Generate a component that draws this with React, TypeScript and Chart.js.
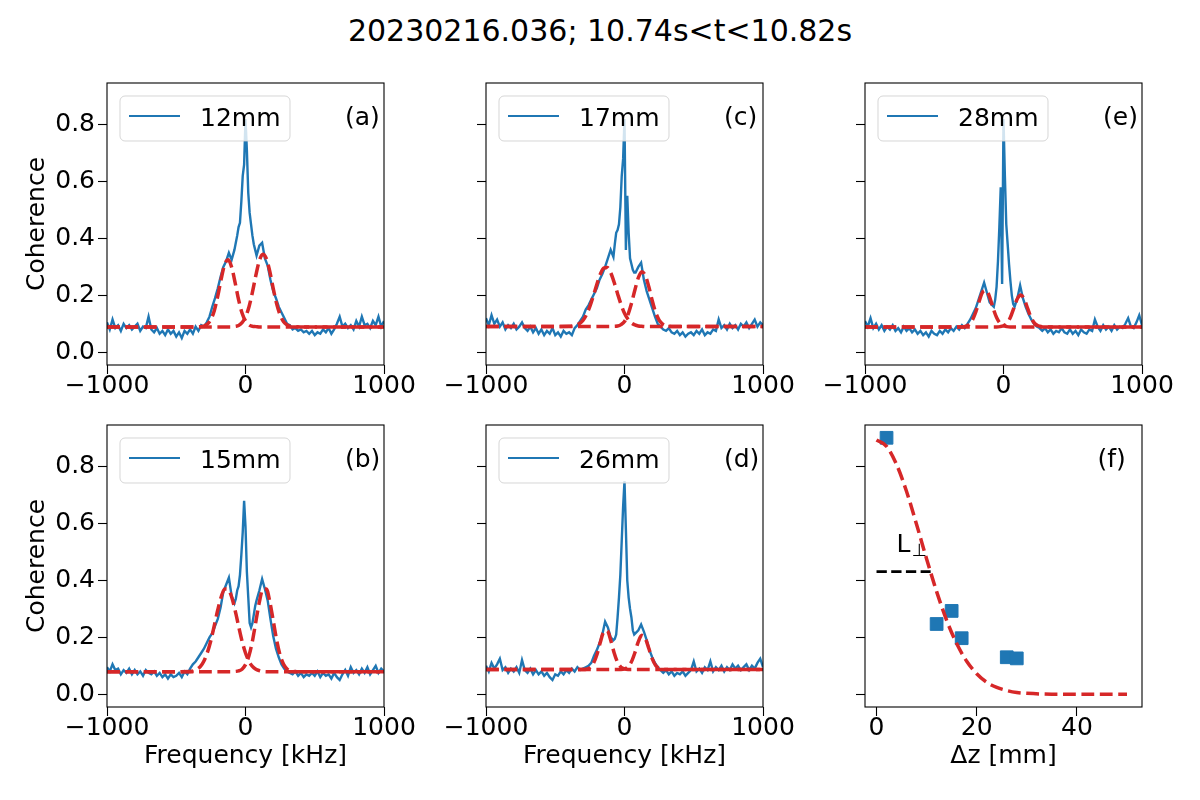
import { useEffect, useRef } from "react"
import { Chart, registerables } from "chart.js"

Chart.register(...registerables)
Chart.defaults.font.family = "'DejaVu Sans', sans-serif"
Chart.defaults.color = "#000"

const BLUE = "#1f77b4"
const RED = "#d62728"

// frequency grid of the measured spectra [kHz]
const freqs = [
  -1000, -980, -960, -940, -920, -900, -880, -860, -840, -820,
  -800, -780, -760, -740, -720, -700, -680, -660, -640, -620,
  -600, -580, -560, -540, -520, -500, -480, -460, -440, -420,
  -400, -380, -360, -340, -320, -300, -280, -260, -240, -220,
  -200, -180, -160, -140, -120, -100, -80,
  -70, -60, -50, -40, -30, -20, -10, 0, 10, 20, 30, 40, 50, 60, 70,
  80, 100, 120, 140, 160, 180, 200, 220, 240, 260,
  280, 300, 320, 340, 360, 380, 400, 420, 440, 460,
  480, 500, 520, 540, 560, 580, 600, 620, 640, 660,
  680, 700, 720, 740, 760, 780, 800, 820, 840, 860,
  880, 900, 920, 940, 960, 980, 1000,
]

const coh12 = [
  0.105, 0.08, 0.115, 0.085, 0.095, 0.075, 0.1, 0.085, 0.095, 0.08,
  0.09, 0.1, 0.075, 0.09, 0.085, 0.125, 0.08, 0.07, 0.085, 0.065,
  0.075, 0.06, 0.08, 0.065, 0.075, 0.055, 0.07, 0.05, 0.075, 0.065,
  0.08, 0.065, 0.09, 0.075, 0.095, 0.09, 0.105, 0.125, 0.16, 0.19,
  0.225, 0.265, 0.3, 0.32, 0.35, 0.325, 0.36,
  0.385, 0.41, 0.44, 0.455, 0.53, 0.62, 0.66, 0.82, 0.71, 0.56, 0.49, 0.45, 0.41, 0.38, 0.36,
  0.34, 0.375, 0.385, 0.33, 0.305, 0.255, 0.215, 0.19, 0.16, 0.14,
  0.12, 0.1, 0.095, 0.08, 0.085, 0.075, 0.08, 0.07, 0.075, 0.065,
  0.075, 0.06, 0.07, 0.065, 0.08, 0.07, 0.085, 0.065, 0.08, 0.1,
  0.125, 0.09, 0.1, 0.085, 0.095, 0.08, 0.11, 0.09, 0.125, 0.095,
  0.1, 0.085, 0.11, 0.095, 0.125, 0.09, 0.11,
]

const coh17 = [
  0.12, 0.095, 0.13, 0.1, 0.115, 0.09, 0.105, 0.08, 0.095, 0.085,
  0.1, 0.08, 0.09, 0.105, 0.085, 0.075, 0.09, 0.07, 0.085, 0.065,
  0.08, 0.06, 0.075, 0.065, 0.085, 0.06, 0.07, 0.055, 0.075, 0.065,
  0.07, 0.06, 0.085, 0.095, 0.11, 0.125, 0.15, 0.165, 0.185, 0.205,
  0.225, 0.255, 0.275, 0.3, 0.33, 0.36, 0.335,
  0.38, 0.42, 0.43, 0.45, 0.51, 0.62, 0.68, 0.82, 0.36, 0.55, 0.42, 0.33, 0.31, 0.29, 0.28,
  0.28, 0.3, 0.315, 0.255, 0.215, 0.185, 0.155, 0.125, 0.1, 0.09,
  0.08, 0.075, 0.085, 0.07, 0.065, 0.075, 0.06, 0.07, 0.055, 0.065,
  0.07, 0.06, 0.075, 0.065, 0.08, 0.06, 0.07, 0.065, 0.08, 0.075,
  0.115, 0.085, 0.095, 0.08, 0.1, 0.085, 0.095, 0.08, 0.1, 0.09,
  0.105, 0.085, 0.1, 0.115, 0.09, 0.105, 0.095,
]

const coh28 = [
  0.11, 0.09, 0.12, 0.085, 0.1, 0.08, 0.095, 0.075, 0.09, 0.08,
  0.095, 0.075, 0.085, 0.07, 0.09, 0.075, 0.085, 0.07, 0.08, 0.065,
  0.075, 0.06, 0.07, 0.055, 0.075, 0.065, 0.06, 0.075, 0.065, 0.08,
  0.07, 0.085, 0.075, 0.09, 0.08, 0.095, 0.085, 0.1, 0.115, 0.135,
  0.155, 0.185, 0.215, 0.245, 0.21, 0.175, 0.165,
  0.16, 0.185, 0.23, 0.32, 0.44, 0.58, 0.24, 0.82, 0.62, 0.45, 0.38, 0.31, 0.25, 0.2, 0.17,
  0.16, 0.19, 0.235, 0.19, 0.16, 0.135, 0.115, 0.1, 0.09, 0.085,
  0.075, 0.085, 0.07, 0.08, 0.065, 0.075, 0.07, 0.085, 0.07, 0.065,
  0.08, 0.065, 0.075, 0.06, 0.08, 0.07, 0.065, 0.08, 0.075, 0.115,
  0.09, 0.075, 0.095, 0.08, 0.09, 0.075, 0.095, 0.08, 0.09, 0.085,
  0.1, 0.12, 0.09, 0.085, 0.105, 0.13, 0.095,
]

const coh15 = [
  0.095, 0.08, 0.105, 0.085, 0.09, 0.07, 0.085, 0.075, 0.09, 0.07,
  0.085, 0.07, 0.08, 0.065, 0.085, 0.075, 0.07, 0.08, 0.065, 0.075,
  0.06, 0.07, 0.055, 0.07, 0.06, 0.065, 0.075, 0.06, 0.08, 0.07,
  0.09, 0.105, 0.115, 0.13, 0.145, 0.16, 0.18, 0.2, 0.215, 0.24,
  0.265, 0.305, 0.36, 0.385, 0.41, 0.345, 0.32,
  0.335, 0.365, 0.38, 0.42, 0.49, 0.57, 0.68, 0.59, 0.43, 0.34, 0.25, 0.235, 0.25, 0.28, 0.31,
  0.33, 0.365, 0.405, 0.37, 0.33, 0.265, 0.205, 0.16, 0.13, 0.105,
  0.09, 0.08, 0.075, 0.07, 0.08, 0.065, 0.075, 0.06, 0.07, 0.065,
  0.075, 0.065, 0.08, 0.06, 0.075, 0.065, 0.07, 0.055, 0.075, 0.06,
  0.05, 0.07, 0.085, 0.065, 0.095, 0.075, 0.085, 0.07, 0.09, 0.075,
  0.095, 0.07, 0.085, 0.1, 0.075, 0.09, 0.08,
]

const coh26 = [
  0.1, 0.08, 0.11, 0.09, 0.105, 0.125, 0.085, 0.095, 0.075, 0.09,
  0.08, 0.095, 0.075, 0.12, 0.085, 0.075, 0.09, 0.07, 0.085, 0.07,
  0.08, 0.065, 0.075, 0.06, 0.05, 0.07, 0.065, 0.08, 0.07, 0.085,
  0.075, 0.09, 0.08, 0.095, 0.085, 0.09, 0.095, 0.1, 0.11, 0.135,
  0.155, 0.18, 0.21, 0.255, 0.235, 0.2, 0.19,
  0.195, 0.21, 0.27, 0.34, 0.42, 0.54, 0.66, 0.75, 0.58, 0.4, 0.34, 0.3, 0.27, 0.225, 0.21,
  0.215, 0.225, 0.245, 0.22, 0.19, 0.155, 0.13, 0.11, 0.095, 0.085,
  0.075, 0.085, 0.07, 0.08, 0.065, 0.075, 0.07, 0.08, 0.065, 0.075,
  0.085, 0.115, 0.08, 0.09, 0.075, 0.095, 0.085, 0.115, 0.08, 0.095,
  0.085, 0.1, 0.08, 0.095, 0.085, 0.105, 0.09, 0.1, 0.085, 0.095,
  0.105, 0.085, 0.1, 0.09, 0.11, 0.125, 0.095,
]

// fitted peaks (dashed), sampled on their own grid
const fitFreqs = [
  -1000, -600, -400, -350, -325, -300, -275, -250, -225, -200, -175, -150, -125, -100, -75, -50, -25,
  0, 25, 50, 75, 100, 125, 150, 175, 200, 225, 250, 275, 300, 325, 350, 400, 600, 1000,
]
const fit12L = [0.089, 0.089, 0.089, 0.089, 0.09, 0.092, 0.099, 0.115, 0.147, 0.198, 0.259, 0.309, 0.325, 0.299, 0.245, 0.185, 0.138, 0.11, 0.096, 0.091, 0.09, 0.089, 0.089, 0.089, 0.089, 0.089, 0.089, 0.089, 0.089, 0.089, 0.089, 0.089, 0.089, 0.089, 0.089]
const fit12R = [0.089, 0.089, 0.089, 0.089, 0.089, 0.089, 0.089, 0.089, 0.089, 0.089, 0.089, 0.089, 0.089, 0.089, 0.091, 0.094, 0.104, 0.124, 0.159, 0.211, 0.271, 0.322, 0.345, 0.33, 0.285, 0.225, 0.17, 0.131, 0.107, 0.096, 0.091, 0.09, 0.089, 0.089, 0.089]
const fit17L = [0.09, 0.09, 0.091, 0.095, 0.101, 0.112, 0.132, 0.161, 0.198, 0.238, 0.274, 0.296, 0.298, 0.28, 0.246, 0.206, 0.168, 0.137, 0.116, 0.103, 0.096, 0.092, 0.091, 0.09, 0.09, 0.09, 0.09, 0.09, 0.09, 0.09, 0.09, 0.09, 0.09, 0.09, 0.09]
const fit17R = [0.09, 0.09, 0.09, 0.09, 0.09, 0.09, 0.09, 0.09, 0.09, 0.09, 0.09, 0.09, 0.09, 0.09, 0.091, 0.092, 0.097, 0.108, 0.132, 0.171, 0.219, 0.262, 0.283, 0.27, 0.231, 0.182, 0.14, 0.113, 0.099, 0.093, 0.091, 0.09, 0.09, 0.09, 0.09]
const fit28L = [0.089, 0.089, 0.089, 0.089, 0.089, 0.089, 0.091, 0.097, 0.113, 0.142, 0.18, 0.212, 0.217, 0.194, 0.155, 0.122, 0.102, 0.093, 0.09, 0.089, 0.089, 0.089, 0.089, 0.089, 0.089, 0.089, 0.089, 0.089, 0.089, 0.089, 0.089, 0.089, 0.089, 0.089, 0.089]
const fit28R = [0.089, 0.089, 0.089, 0.089, 0.089, 0.089, 0.089, 0.089, 0.089, 0.089, 0.089, 0.089, 0.089, 0.089, 0.089, 0.089, 0.09, 0.093, 0.102, 0.123, 0.156, 0.188, 0.201, 0.186, 0.153, 0.121, 0.101, 0.093, 0.09, 0.089, 0.089, 0.089, 0.089, 0.089, 0.089]
const fit15L = [0.079, 0.079, 0.08, 0.088, 0.098, 0.117, 0.147, 0.189, 0.242, 0.297, 0.343, 0.37, 0.369, 0.342, 0.295, 0.24, 0.187, 0.145, 0.116, 0.098, 0.088, 0.083, 0.08, 0.079, 0.079, 0.079, 0.079, 0.079, 0.079, 0.079, 0.079, 0.079, 0.079, 0.079, 0.079]
const fit15R = [0.079, 0.079, 0.079, 0.079, 0.079, 0.079, 0.079, 0.079, 0.079, 0.079, 0.079, 0.079, 0.079, 0.079, 0.08, 0.082, 0.088, 0.104, 0.135, 0.187, 0.256, 0.324, 0.369, 0.37, 0.327, 0.259, 0.19, 0.137, 0.105, 0.089, 0.082, 0.08, 0.079, 0.079, 0.079]
const fit26L = [0.087, 0.087, 0.087, 0.087, 0.087, 0.087, 0.088, 0.093, 0.108, 0.138, 0.182, 0.219, 0.223, 0.191, 0.146, 0.112, 0.095, 0.089, 0.087, 0.087, 0.087, 0.087, 0.087, 0.087, 0.087, 0.087, 0.087, 0.087, 0.087, 0.087, 0.087, 0.087, 0.087, 0.087, 0.087]
const fit26R = [0.087, 0.087, 0.087, 0.087, 0.087, 0.087, 0.087, 0.087, 0.087, 0.087, 0.087, 0.087, 0.087, 0.087, 0.087, 0.087, 0.087, 0.089, 0.096, 0.114, 0.146, 0.185, 0.207, 0.197, 0.162, 0.125, 0.101, 0.091, 0.088, 0.087, 0.087, 0.087, 0.087, 0.087, 0.087]

// panel (f): peak coherence vs probe separation
const dzPoints = [2, 12, 15, 17, 26, 28]
const cohPoints = [0.902, 0.247, 0.293, 0.197, 0.13, 0.126]
const dzFit = [0, 2, 4, 6, 8, 10, 12, 14, 16, 18, 20, 22, 24, 26, 28, 30, 35, 40, 45, 50]
const cohFit = [0.894, 0.872, 0.808, 0.713, 0.597, 0.476, 0.361, 0.26, 0.178, 0.116, 0.072, 0.042, 0.024, 0.013, 0.006, 0.003, 0.0, 0.0, 0.0, 0.0]
const lPerpX = [0, 10.8]
const lPerpY = [0.431, 0.431]

const yTicks = [0, 0.2, 0.4, 0.6, 0.8]
const freqTicks = [-1000, 0, 1000]
const dzTicks = [0, 20, 40]

const colLeft = [107, 486, 865]
const rowTop = [83, 425]

const decor = {
  id: "decor",
  afterDraw(chart: any, _args: any, opts: any) {
    const { ctx, chartArea: a } = chart
    ctx.save()
    ctx.strokeStyle = "#000"
    ctx.lineWidth = 1.1
    ctx.strokeRect(a.left, a.top, a.right - a.left, a.bottom - a.top)
    ctx.font = "25px 'DejaVu Sans'"
    ctx.textAlign = "left"
    ctx.textBaseline = "alphabetic"
    if (opts.legend) {
      const bx = a.left + 13
      const by = a.top + 13
      ctx.beginPath()
      ctx.roundRect(bx, by, 170, 45, 5)
      ctx.fillStyle = "rgba(255,255,255,0.8)"
      ctx.fill()
      ctx.strokeStyle = "rgba(204,204,204,0.8)"
      ctx.lineWidth = 1
      ctx.stroke()
      ctx.beginPath()
      ctx.moveTo(bx + 9, by + 20)
      ctx.lineTo(bx + 60, by + 20)
      ctx.strokeStyle = BLUE
      ctx.lineWidth = 2.1
      ctx.stroke()
      ctx.fillStyle = "#000"
      ctx.fillText(opts.legend, bx + 80, by + 29.5)
    }
    ctx.fillStyle = "#000"
    if (opts.tag) ctx.fillText(opts.tag, a.left + opts.tagX, a.top + 41.7)
    if (opts.note) {
      const x = chart.scales.x.getPixelForValue(opts.note.x)
      const y = chart.scales.y.getPixelForValue(opts.note.y)
      ctx.fillText("L", x, y)
      ctx.font = "17.5px 'DejaVu Sans'"
      ctx.fillText("\u22A5", x + 15, y + 3.5)
    }
    ctx.restore()
  },
}

const tickGrid = { drawOnChartArea: false, drawTicks: true, tickLength: 9, tickWidth: 1.1, tickColor: "#000" }

function yScale(showLabels: boolean) {
  return {
    type: "linear",
    bounds: "data",
    min: -0.045,
    max: 0.947,
    afterBuildTicks: (s: any) => {
      s.ticks = yTicks.map((v) => ({ value: v }))
    },
    afterFit: (s: any) => {
      s.width = 100
    },
    grid: tickGrid,
    border: { display: false },
    ticks: {
      font: { size: 25, lineHeight: 1 },
      padding: 3,
      autoSkip: false,
      callback: (v: any) => (showLabels ? Number(v).toFixed(1) : ""),
    },
    title: { display: showLabels, text: "Coherence", font: { size: 25 }, padding: { top: 15, bottom: 0 } },
  }
}

function xScale(min: number, max: number, ticks: number[], title: string) {
  return {
    type: "linear",
    bounds: "data",
    min,
    max,
    afterBuildTicks: (s: any) => {
      s.ticks = ticks.map((v) => ({ value: v }))
    },
    afterFit: (s: any) => {
      s.height = 93
    },
    grid: tickGrid,
    border: { display: false },
    ticks: {
      font: { size: 25, lineHeight: 1 },
      padding: 0,
      autoSkip: false,
      minRotation: 0,
      maxRotation: 0,
      callback: (v: any) => String(v).replace("-", "\u2212"),
    },
    title: { display: title !== "", text: title, font: { size: 25 }, padding: { top: 0, bottom: 28.5 } },
  }
}

function baseOptions(x: any, y: any, decorOpts: any) {
  return {
    responsive: true,
    maintainAspectRatio: false,
    animation: false,
    events: [],
    layout: { padding: { left: 0, right: 45, top: 20, bottom: 0 } },
    scales: { x, y },
    plugins: { legend: { display: false }, tooltip: { enabled: false }, decor: decorOpts },
  }
}

function fitDataset(vals: number[]) {
  return {
    data: fitFreqs.map((x, i) => ({ x, y: vals[i] })),
    borderColor: RED,
    borderWidth: 3.5,
    borderDash: [12.8, 5.6],
    pointRadius: 0,
    cubicInterpolationMode: "monotone",
    fill: false,
  }
}

function spectrumConfig(vals: number[], fitL: number[], fitR: number[], legend: string, tag: string, showY: boolean, bottomRow: boolean) {
  return {
    type: "line",
    data: {
      datasets: [
        fitDataset(fitL),
        fitDataset(fitR),
        {
          label: legend,
          data: freqs.map((x, i) => ({ x, y: vals[i] })),
          borderColor: BLUE,
          borderWidth: 2.4,
          pointRadius: 0,
          tension: 0,
          fill: false,
        },
      ],
    },
    options: baseOptions(
      xScale(-1000, 1000, freqTicks, bottomRow ? "Frequency [kHz]" : ""),
      yScale(showY),
      { legend, tag, tagX: 238 }
    ),
    plugins: [decor],
  }
}

function decayConfig() {
  return {
    type: "line",
    data: {
      datasets: [
        {
          data: dzFit.map((x, i) => ({ x, y: cohFit[i] })),
          borderColor: RED,
          borderWidth: 3.5,
          borderDash: [12.8, 5.6],
          pointRadius: 0,
          cubicInterpolationMode: "monotone",
          fill: false,
        },
        {
          data: lPerpX.map((x, i) => ({ x, y: lPerpY[i] })),
          borderColor: "#000",
          borderWidth: 2.8,
          borderDash: [10.3, 4.4],
          pointRadius: 0,
          fill: false,
        },
        {
          data: dzPoints.map((x, i) => ({ x, y: cohPoints[i] })),
          showLine: false,
          pointStyle: "rect",
          pointRadius: 9,
          backgroundColor: BLUE,
          borderColor: BLUE,
          borderWidth: 1,
        },
      ],
    },
    options: baseOptions(xScale(-2.3, 53, dzTicks, "\u0394z [mm]"), yScale(false), {
      tag: "(f)",
      tagX: 232.5,
      note: { x: 4, y: 0.5 },
    }),
    plugins: [decor],
  }
}

function ChartPanel({ col, row, make }: { col: number; row: number; make: () => any }) {
  const canvasRef = useRef<HTMLCanvasElement>(null)

  useEffect(() => {
    if (!canvasRef.current) return
    const chart = new Chart(canvasRef.current, make())
    return () => chart.destroy()
  }, [make])

  return (
    <div style={{ position: "absolute", left: colLeft[col] - 100, top: rowTop[row] - 20, width: 422, height: 395 }}>
      <canvas ref={canvasRef} />
    </div>
  )
}

const makeA = () => spectrumConfig(coh12, fit12L, fit12R, "12mm", "(a)", true, false)
const makeC = () => spectrumConfig(coh17, fit17L, fit17R, "17mm", "(c)", false, false)
const makeE = () => spectrumConfig(coh28, fit28L, fit28R, "28mm", "(e)", false, false)
const makeB = () => spectrumConfig(coh15, fit15L, fit15R, "15mm", "(b)", true, true)
const makeD = () => spectrumConfig(coh26, fit26L, fit26R, "26mm", "(d)", false, true)

export default function App() {
  return (
    <div style={{ position: "absolute", left: 0, top: 0, width: 1200, height: 800, background: "#fff", overflow: "hidden" }}>
      <div
        style={{
          position: "absolute",
          left: 0,
          top: 15.5,
          width: 1200,
          textAlign: "center",
          fontFamily: "'DejaVu Sans', sans-serif",
          fontSize: 30,
          lineHeight: "30px",
          color: "#000",
        }}
      >
        20230216.036; 10.74s&lt;t&lt;10.82s
      </div>
      <ChartPanel col={0} row={0} make={makeA} />
      <ChartPanel col={1} row={0} make={makeC} />
      <ChartPanel col={2} row={0} make={makeE} />
      <ChartPanel col={0} row={1} make={makeB} />
      <ChartPanel col={1} row={1} make={makeD} />
      <ChartPanel col={2} row={1} make={decayConfig} />
    </div>
  )
}
